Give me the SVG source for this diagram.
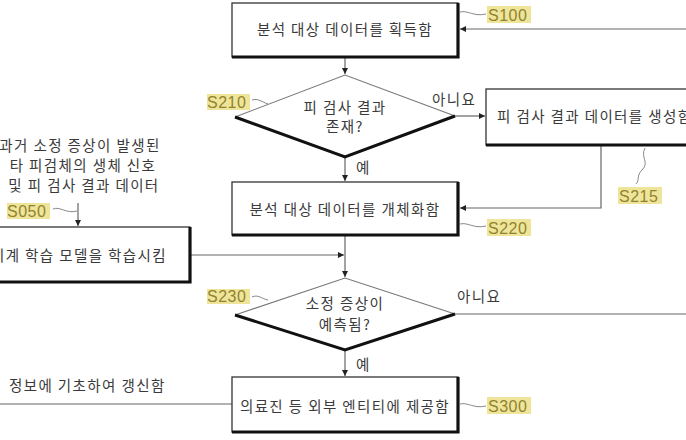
<svg xmlns="http://www.w3.org/2000/svg" width="686" height="440" viewBox="0 0 686 440">
<style>
.t{font-family:"Noto Sans CJK KR","Noto Sans",sans-serif;font-size:14.5px;fill:#3a3a3a;letter-spacing:1.4px}
.lbl{font-family:"Liberation Sans",Arial,sans-serif;font-size:16px;fill:#8f8330;letter-spacing:0.5px}
.hl{fill:#efe59a}
.box{fill:#fff;stroke:#333;stroke-width:1.3}
.sh{fill:none;stroke:#111;stroke-width:3.2}
.dtop{fill:none;stroke:#777;stroke-width:1.1}
.dbot{fill:none;stroke:#111;stroke-width:3}
.ln{fill:none;stroke:#666;stroke-width:1.2}
.sq{fill:none;stroke:#888;stroke-width:1}
</style>
<defs>
<marker id="ah" viewBox="0 0 6 6" refX="6" refY="3" markerWidth="6" markerHeight="6" orient="auto" markerUnits="userSpaceOnUse">
<path d="M0,0 L6,3 L0,6 z" fill="#222"/>
</marker>
</defs>
<rect width="686" height="440" fill="#fff"/>

<g id="connectors">
<path class="ln" d="M345,57 V74" marker-end="url(#ah)"/>
<path class="ln" d="M686,29 H460" marker-end="url(#ah)"/>
<path class="ln" d="M455,116 H485" marker-end="url(#ah)"/>
<path class="ln" d="M345,157 V181" marker-end="url(#ah)"/>
<path class="ln" d="M601,145 V208 H460" marker-end="url(#ah)"/>
<path class="ln" d="M345,236 V277" marker-end="url(#ah)"/>
<path class="ln" d="M191,255 H344" marker-end="url(#ah)"/>
<path class="ln" d="M78,203 V226" marker-end="url(#ah)"/>
<path class="ln" d="M455,314 H686"/>
<path class="ln" d="M345,350 V376" marker-end="url(#ah)"/>
<path class="ln" d="M232,404 H0"/>
<text class="t" x="432" y="105">아니요</text>
<text class="t" x="457" y="302">아니요</text>
<text class="t" x="356" y="173">예</text>
<text class="t" x="356" y="370">예</text>
</g>

<g id="S100">
<rect class="box" x="232" y="3" width="226" height="54"/>
<path class="sh" d="M458,3 V57 H232"/>
<text class="t" x="345" y="35" text-anchor="middle">분석 대상 데이터를 획득함</text>
<path class="sq" d="M460,12 C468,10 474,17 486,14"/>
<rect class="hl" x="487" y="6" width="44" height="17"/>
<text class="lbl" x="488" y="21">S100</text>
</g>

<g id="S210">
<path class="dtop" d="M235,117 L345,75 L455,116"/>
<path class="dbot" d="M235,117 L345,157 L455,116"/>
<text class="t" x="345" y="113" text-anchor="middle">피 검사 결과</text>
<text class="t" x="345" y="132" text-anchor="middle">존재?</text>
<rect class="hl" x="207" y="94" width="43" height="16"/>
<text class="lbl" x="207" y="108">S210</text>
<path class="sq" d="M252,100 C258,98 262,102 268,104"/>
</g>

<g id="S215">
<rect class="box" x="486" y="89" width="215" height="56"/>
<path class="sh" d="M486,145 H701"/>
<text class="t" x="497" y="122">피 검사 결과 데이터를 생성함</text>
<path class="sq" d="M645,148 C640,158 650,162 642,170 C636,176 640,180 636,184"/>
<rect class="hl" x="618" y="187" width="44" height="17"/>
<text class="lbl" x="619" y="202">S215</text>
</g>

<g id="S220">
<rect class="box" x="232" y="182" width="226" height="53"/>
<path class="sh" d="M458,182 V235 H232"/>
<text class="t" x="345" y="215" text-anchor="middle">분석 대상 데이터를 개체화함</text>
<path class="sq" d="M460,224 C468,222 474,229 486,226"/>
<rect class="hl" x="487" y="219" width="44" height="17"/>
<text class="lbl" x="488" y="234">S220</text>
</g>

<g id="S050">
<text class="t" x="80" y="151" text-anchor="middle">과거 소정 증상이 발생된</text>
<text class="t" x="83" y="171" text-anchor="middle">타 피검체의 생체 신호</text>
<text class="t" x="84" y="191" text-anchor="middle">및 피 검사 결과 데이터</text>
<rect class="hl" x="7" y="203" width="43" height="16"/>
<text class="lbl" x="7" y="217">S050</text>
<path class="sq" d="M53,209 C60,206 66,214 77,211"/>
</g>

<g id="train">
<rect class="box" x="-10" y="227" width="200" height="55"/>
<path class="sh" d="M190,227 V282 H-10"/>
<text class="t" x="167" y="261" text-anchor="end">기계 학습 모델을 학습시킴</text>
</g>

<g id="S230">
<path class="dtop" d="M235,315 L345,278 L455,314"/>
<path class="dbot" d="M235,315 L345,350 L455,314"/>
<text class="t" x="345" y="309" text-anchor="middle">소정 증상이</text>
<text class="t" x="345" y="330" text-anchor="middle">예측됨?</text>
<rect class="hl" x="207" y="289" width="43" height="15"/>
<text class="lbl" x="207" y="302">S230</text>
<path class="sq" d="M252,297 C258,294 262,299 268,300"/>
</g>

<g id="S300">
<rect class="box" x="232" y="377" width="226" height="55"/>
<path class="sh" d="M458,377 V432 H232"/>
<text class="t" x="345" y="412" text-anchor="middle">의료진 등 외부 엔티티에 제공함</text>
<path class="sq" d="M460,404 C468,402 474,409 486,406"/>
<rect class="hl" x="487" y="397" width="44" height="17"/>
<text class="lbl" x="488" y="412">S300</text>
</g>

<g id="update">
<text class="t" x="9" y="391">정보에 기초하여 갱신함</text>
</g>
</svg>
